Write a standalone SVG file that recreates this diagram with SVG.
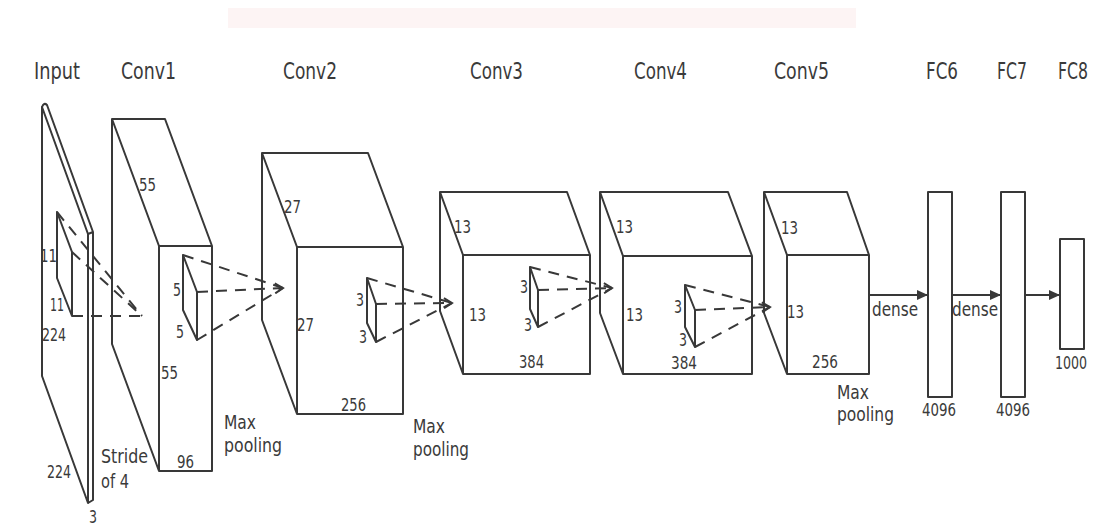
<svg xmlns="http://www.w3.org/2000/svg" width="1093" height="529" viewBox="0 0 1093 529">
<style>
.e{fill:none;stroke:#383838;stroke-width:2;stroke-linejoin:round}
.f{fill:#fff;stroke:#383838;stroke-width:2;stroke-linejoin:round}
.d{fill:none;stroke:#383838;stroke-width:2;stroke-dasharray:11 8}
.a{fill:none;stroke:#383838;stroke-width:2}
text{font-family:"DejaVu Sans Condensed","DejaVu Sans","Liberation Sans",sans-serif;fill:#3a3a3a}
.h{font-size:23px}
.n{font-size:18px}
.l{font-size:20px}
</style>
<defs>
<marker id="chev" markerWidth="12" markerHeight="12" refX="9" refY="6" orient="auto" markerUnits="userSpaceOnUse"><path d="M1,1 L9,6 L1,11" fill="none" stroke="#383838" stroke-width="2"/></marker>
<marker id="tri" markerWidth="12" markerHeight="10" refX="11" refY="5" orient="auto" markerUnits="userSpaceOnUse"><path d="M0,0 L11,5 L0,10 Z" fill="#383838"/></marker>
</defs>
<rect x="0" y="0" width="1093" height="529" fill="#fff"/>
<rect x="228" y="8" width="628" height="20" fill="#fdf4f4"/>

<g id="input">
<text class="h" x="34" y="79" textLength="46" lengthAdjust="spacingAndGlyphs">Input</text>
<path class="f" d="M42,107 L88,234 L88,503 L42,376 Z"/>
<path class="e" d="M42,107 Q44,102 47,105 L93,232 L93,500 L88,503 M88,234 L93,232"/>
<path class="e" d="M57,212 L57,278 L72,316 L72,252 Z"/>
<text class="n" x="40" y="262" textLength="17" lengthAdjust="spacingAndGlyphs">11</text>
<text class="n" x="50" y="311" textLength="14" lengthAdjust="spacingAndGlyphs">11</text>
<text class="n" x="42" y="341" textLength="24" lengthAdjust="spacingAndGlyphs">224</text>
<text class="n" x="47" y="478" textLength="24" lengthAdjust="spacingAndGlyphs">224</text>
<text class="n" x="89" y="523" textLength="8" lengthAdjust="spacingAndGlyphs">3</text>
</g>

<g id="conv1">
<text class="h" x="121" y="79" textLength="55" lengthAdjust="spacingAndGlyphs">Conv1</text>
<path class="f" d="M112,119 L165,119 L212,246 L212,471 L159,471 L112,344 Z"/>
<path class="e" d="M112,119 L159,246 L212,246 M159,246 L159,471"/>
<path class="e" d="M183,255 L183,310 L197,340 L197,292 Z"/>
<text class="n" x="139" y="191" textLength="17" lengthAdjust="spacingAndGlyphs">55</text>
<text class="n" x="173" y="296" textLength="8" lengthAdjust="spacingAndGlyphs">5</text>
<text class="n" x="176" y="338" textLength="8" lengthAdjust="spacingAndGlyphs">5</text>
<text class="n" x="161" y="379" textLength="17" lengthAdjust="spacingAndGlyphs">55</text>
<text class="n" x="177" y="468" textLength="17" lengthAdjust="spacingAndGlyphs">96</text>
<text class="l" x="101" y="463" textLength="47" lengthAdjust="spacingAndGlyphs">Stride</text>
<text class="l" x="101" y="488" textLength="28" lengthAdjust="spacingAndGlyphs">of 4</text>
<text class="l" x="224" y="429" textLength="32" lengthAdjust="spacingAndGlyphs">Max</text>
<text class="l" x="224" y="452" textLength="58" lengthAdjust="spacingAndGlyphs">pooling</text>
</g>

<g id="conv2">
<text class="h" x="283" y="79" textLength="54" lengthAdjust="spacingAndGlyphs">Conv2</text>
<path class="f" d="M262,153 L368,153 L403,247 L403,414 L297,414 L262,320 Z"/>
<path class="e" d="M262,153 L297,247 L403,247 M297,247 L297,414"/>
<path class="e" d="M367,278 L367,323 L376,342 L376,304 Z"/>
<text class="n" x="284" y="213" textLength="17" lengthAdjust="spacingAndGlyphs">27</text>
<text class="n" x="297" y="331" textLength="17" lengthAdjust="spacingAndGlyphs">27</text>
<text class="n" x="356" y="306" textLength="8" lengthAdjust="spacingAndGlyphs">3</text>
<text class="n" x="359" y="343" textLength="8" lengthAdjust="spacingAndGlyphs">3</text>
<text class="n" x="341" y="411" textLength="25" lengthAdjust="spacingAndGlyphs">256</text>
<text class="l" x="413" y="433" textLength="32" lengthAdjust="spacingAndGlyphs">Max</text>
<text class="l" x="413" y="456" textLength="56" lengthAdjust="spacingAndGlyphs">pooling</text>
</g>

<g id="conv3">
<text class="h" x="470" y="79" textLength="53" lengthAdjust="spacingAndGlyphs">Conv3</text>
<path class="f" d="M440,192 L567,192 L590,255 L590,374 L463,374 L440,311 Z"/>
<path class="e" d="M440,192 L463,255 L590,255 M463,255 L463,374"/>
<path class="e" d="M530,267 L530,309 L538,327 L538,290 Z"/>
<text class="n" x="454" y="233" textLength="17" lengthAdjust="spacingAndGlyphs">13</text>
<text class="n" x="469" y="321" textLength="17" lengthAdjust="spacingAndGlyphs">13</text>
<text class="n" x="520" y="293" textLength="8" lengthAdjust="spacingAndGlyphs">3</text>
<text class="n" x="524" y="331" textLength="8" lengthAdjust="spacingAndGlyphs">3</text>
<text class="n" x="519" y="368" textLength="25" lengthAdjust="spacingAndGlyphs">384</text>
</g>

<g id="conv4">
<text class="h" x="634" y="79" textLength="53" lengthAdjust="spacingAndGlyphs">Conv4</text>
<path class="f" d="M600,192 L728,192 L752,256 L752,374 L623,374 L600,313 Z"/>
<path class="e" d="M600,192 L623,256 L752,256 M623,256 L623,374"/>
<path class="e" d="M685,285 L685,327 L695,347 L695,310 Z"/>
<text class="n" x="616" y="233" textLength="17" lengthAdjust="spacingAndGlyphs">13</text>
<text class="n" x="626" y="321" textLength="17" lengthAdjust="spacingAndGlyphs">13</text>
<text class="n" x="674" y="313" textLength="8" lengthAdjust="spacingAndGlyphs">3</text>
<text class="n" x="679" y="346" textLength="8" lengthAdjust="spacingAndGlyphs">3</text>
<text class="n" x="671" y="369" textLength="26" lengthAdjust="spacingAndGlyphs">384</text>
</g>

<g id="conv5">
<text class="h" x="774" y="79" textLength="55" lengthAdjust="spacingAndGlyphs">Conv5</text>
<path class="f" d="M764,192 L847,192 L869,255 L869,374 L787,374 L764,313 Z"/>
<path class="e" d="M764,192 L787,255 L869,255 M787,255 L787,374"/>
<text class="n" x="781" y="234" textLength="17" lengthAdjust="spacingAndGlyphs">13</text>
<text class="n" x="787" y="318" textLength="17" lengthAdjust="spacingAndGlyphs">13</text>
<text class="n" x="812" y="368" textLength="26" lengthAdjust="spacingAndGlyphs">256</text>
<text class="l" x="837" y="399" textLength="32" lengthAdjust="spacingAndGlyphs">Max</text>
<text class="l" x="837" y="421" textLength="57" lengthAdjust="spacingAndGlyphs">pooling</text>
</g>

<g id="fc6">
<text class="h" x="926" y="79" textLength="32" lengthAdjust="spacingAndGlyphs">FC6</text>
<rect class="f" x="928" y="192" width="24" height="205"/>
<text class="n" x="922" y="416" textLength="34" lengthAdjust="spacingAndGlyphs">4096</text>
</g>

<g id="fc7">
<text class="h" x="997" y="79" textLength="30" lengthAdjust="spacingAndGlyphs">FC7</text>
<rect class="f" x="1001" y="192" width="24" height="205"/>
<text class="n" x="996" y="416" textLength="34" lengthAdjust="spacingAndGlyphs">4096</text>
</g>

<g id="fc8">
<text class="h" x="1088" y="79" text-anchor="end" textLength="30" lengthAdjust="spacingAndGlyphs">FC8</text>
<rect class="f" x="1060" y="239" width="24" height="110"/>
<text class="n" x="1087" y="369" text-anchor="end" textLength="32" lengthAdjust="spacingAndGlyphs">1000</text>
</g>

<g id="connectors">
<path class="d" d="M57,212 L142,316"/>
<path class="d" d="M72,252 L142,316"/>
<path class="d" d="M72,316 L142,316"/>
<path class="d" d="M183,255 L283,288"/>
<path class="d" d="M197,292 L283,288" marker-end="url(#chev)"/>
<path class="d" d="M197,340 L283,288"/>
<path class="d" d="M367,278 L452,303"/>
<path class="d" d="M376,304 L452,303" marker-end="url(#chev)"/>
<path class="d" d="M376,342 L452,303"/>
<path class="d" d="M530,267 L612,288"/>
<path class="d" d="M538,290 L612,288" marker-end="url(#chev)"/>
<path class="d" d="M538,327 L612,288"/>
<path class="d" d="M685,285 L770,307"/>
<path class="d" d="M695,310 L770,307" marker-end="url(#chev)"/>
<path class="d" d="M695,347 L770,307"/>
<path class="a" d="M869,295 L928,295" marker-end="url(#tri)"/>
<path class="a" d="M952,295 L1001,295" marker-end="url(#tri)"/>
<path class="a" d="M1025,295 L1060,295" marker-end="url(#tri)"/>
<text class="l" x="872" y="316" textLength="46" lengthAdjust="spacingAndGlyphs">dense</text>
<text class="l" x="952" y="316" textLength="46" lengthAdjust="spacingAndGlyphs">dense</text>
</g>
</svg>
